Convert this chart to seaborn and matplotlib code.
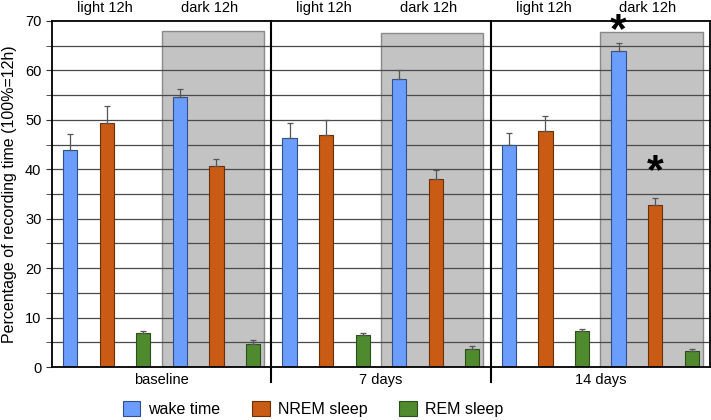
import numpy as np
import pandas as pd
import matplotlib
matplotlib.use("Agg")
import matplotlib.pyplot as plt
import seaborn as sns
from matplotlib.patches import Rectangle, Patch

# data (means and upper SEM tops)
periods = ["baseline", "7 days", "14 days"]
phases = ["light 12h", "dark 12h"]
stages = ["wake time", "NREM sleep", "REM sleep"]

wake_mean = [43.9, 54.6, 46.4, 58.2, 44.9, 64.0]
wake_err = [3.3, 1.7, 2.9, 1.8, 2.5, 1.6]
nrem_mean = [49.4, 40.6, 47.0, 38.1, 47.8, 32.7]
nrem_err = [3.4, 1.4, 3.0, 1.7, 2.9, 1.6]
rem_mean = [6.8, 4.7, 6.5, 3.6, 7.3, 3.2]
rem_err = [0.4, 0.8, 0.4, 0.6, 0.5, 0.5]

dark_box_top = [67.9, 67.5, 67.7]

colors = {"wake time": "#6b9dfc", "NREM sleep": "#c95b14", "REM sleep": "#4f8a2f"}
edges = {"wake time": "#2f4f8f", "NREM sleep": "#6a2e08", "REM sleep": "#2c4e1a"}

rows = []
slot = 0
for p in range(3):
    for ph in range(2):
        k = p * 2 + ph
        for s, m, e in zip(stages, [wake_mean, nrem_mean, rem_mean], [wake_err, nrem_err, rem_err]):
            rows.append({"slot": slot, "stage": s, "value": m[k], "err": e[k]})
            slot += 1
df = pd.DataFrame(rows)

plt.rcParams["font.family"] = ["Liberation Sans", "DejaVu Sans"]
fig = plt.figure(figsize=(7.11, 4.20), dpi=100)
ax = fig.add_axes([0.073, 0.126, 0.9256, 0.824])

sns.barplot(data=df, x="slot", y="value", hue="stage", dodge=False, palette=colors,
            saturation=1, width=0.39, ax=ax, legend=False, zorder=3, errorbar=None)
for c, s in zip(ax.containers, stages):
    for b in c:
        b.set_edgecolor(edges[s])
        b.set_linewidth(0.8)

ax.errorbar(df["slot"], df["value"], yerr=[np.zeros(len(df)), df["err"]], fmt="none",
            ecolor="#555555", elinewidth=0.9, capsize=2.5, capthick=0.9, zorder=4)

# shaded dark-phase boxes
for p in range(3):
    x0 = p * 6 + 2.5
    ax.add_patch(Rectangle((x0, 0), 2.8, dark_box_top[p], facecolor="#c3c3c3",
                           edgecolor="#8a8a8a", linewidth=1.0, zorder=0.2))

ax.set_xlim(-0.5, 17.5)
ax.set_ylim(0, 70)
ax.set_yticks(np.arange(0, 71, 10))
ax.set_yticks(np.arange(5, 70, 10), minor=True)
for yv in np.arange(5, 70, 5):
    ax.axhline(yv, color="#4a4a4a", linewidth=0.9, zorder=1)
ax.tick_params(axis="y", which="both", direction="out", length=4, labelsize=10.5, color="#333333")
ax.tick_params(axis="x", length=0, labelbottom=False)
ax.set_xlabel("")
ax.set_ylabel("Percentage of recording time (100%=12h)", fontsize=11.5, labelpad=6)

for sp in ax.spines.values():
    sp.set_color("black")
    sp.set_linewidth(1.3)
    sp.set_zorder(5)

# group separators
for xs in [5.5, 11.5]:
    ax.plot([xs, xs], [-3, 70], color="black", linewidth=1.5, clip_on=False, zorder=5)

for p, name in enumerate(periods):
    ax.text(p * 6 + 2.5, -1.2, name, ha="center", va="top", fontsize=10.5)
    ax.text(p * 6 + 0.95, 71.3, phases[0], ha="center", va="bottom", fontsize=10.5)
    ax.text(p * 6 + 3.8, 71.3, phases[1], ha="center", va="bottom", fontsize=10.5)

# significance marks
ax.text(15, 64.0, "*", ha="center", va="bottom", fontsize=31, fontweight="bold",
        clip_on=False, zorder=6)
ax.text(16, 35.3, "*", ha="center", va="bottom", fontsize=31, fontweight="bold", zorder=6)

handles = [Patch(facecolor=colors[s], edgecolor=edges[s], linewidth=0.8, label=s) for s in stages]
fig.legend(handles=handles, loc="center", bbox_to_anchor=(313 / 711, 1 - 409 / 420), ncol=3,
           frameon=False, fontsize=11.5, handlelength=1.1, handleheight=1.1,
           handletextpad=0.5, columnspacing=2.0)

fig.savefig("out.png", dpi=100)
